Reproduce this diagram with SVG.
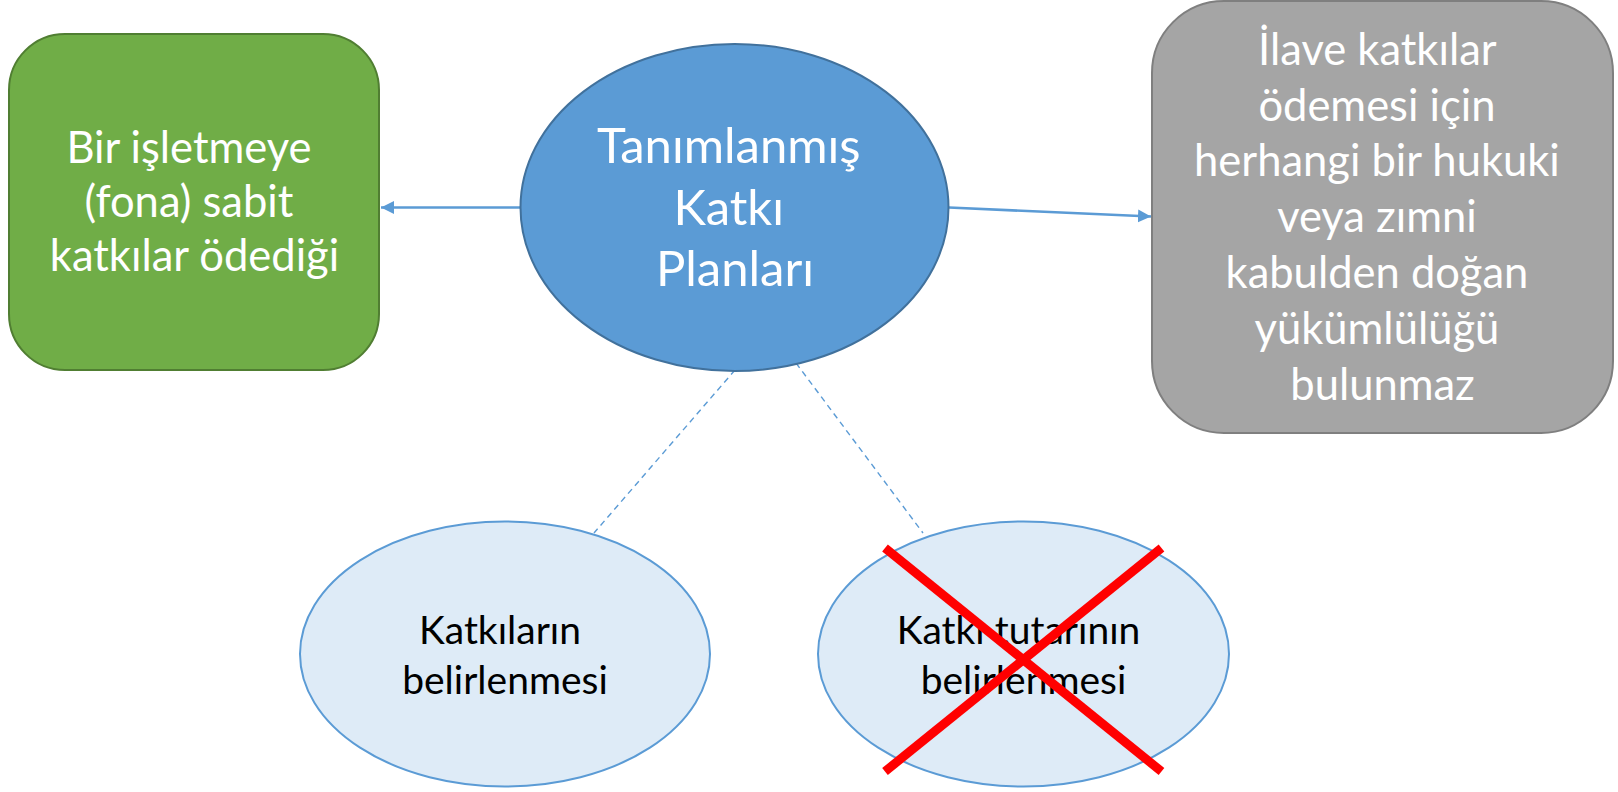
<svg xmlns="http://www.w3.org/2000/svg" width="1618" height="792" viewBox="0 0 1618 792">
  <defs>
    <style>
      .lbl { font-family: "Lato", "Liberation Sans", sans-serif; text-anchor: middle; }
      .white { fill: #FFFFFF; }
      .dark { fill: #000000; }
      .conn { stroke: #5B9BD5; stroke-width: 2.6; fill: none; }
      .dash { stroke: #5B9BD5; stroke-width: 1.4; fill: none; stroke-dasharray: 6 4.5; }
      .small { fill: #DEEBF7; stroke: #5B9BD5; stroke-width: 2; }
      .cross { stroke: #FF0000; stroke-width: 9; stroke-linecap: butt; }
    </style>
    <marker id="arrow" markerUnits="userSpaceOnUse" markerWidth="14" markerHeight="14" refX="13" refY="7" orient="auto">
      <path d="M0,0.5 L13,7 L0,13.5 Z" fill="#5B9BD5"/>
    </marker>
  </defs>

  <g id="connectors">
    <line class="conn" x1="521" y1="207.5" x2="381" y2="207.5" marker-end="url(#arrow)"/>
    <line class="conn" x1="949" y1="207.5" x2="1151" y2="216.5" marker-end="url(#arrow)"/>
    <line class="dash" x1="735" y1="370" x2="594" y2="533"/>
    <line class="dash" x1="796" y1="363" x2="923" y2="533"/>
  </g>

  <g id="node-fixed">
    <rect x="9" y="34" width="370" height="336" rx="56" ry="56" fill="#70AD47" stroke="#507E32" stroke-width="2"/>
    <text class="lbl white" font-size="43.5">
      <tspan x="194.5" y="163">Bir işletmeye</tspan>
      <tspan x="194.5" y="217">(fona) sabit</tspan>
      <tspan x="194.5" y="271">katkılar ödediği</tspan>
    </text>
  </g>

  <g id="node-main">
    <ellipse cx="734.5" cy="207.5" rx="214" ry="163.5" fill="#5B9BD5" stroke="#41719C" stroke-width="2"/>
    <text class="lbl white" font-size="49">
      <tspan x="735" y="163">Tanımlanmış</tspan>
      <tspan x="735" y="225">Katkı</tspan>
      <tspan x="735" y="286">Planları</tspan>
    </text>
  </g>

  <g id="node-noobligation">
    <rect x="1152" y="1" width="461" height="432" rx="72" ry="72" fill="#A5A5A5" stroke="#7F7F7F" stroke-width="2"/>
    <text class="lbl white" font-size="43.5">
      <tspan x="1382.5" y="65">İlave katkılar</tspan>
      <tspan x="1382.5" y="120.5">ödemesi için</tspan>
      <tspan x="1382.5" y="176">herhangi bir hukuki</tspan>
      <tspan x="1382.5" y="232">veya zımni</tspan>
      <tspan x="1382.5" y="288">kabulden doğan</tspan>
      <tspan x="1382.5" y="343.5">yükümlülüğü</tspan>
      <tspan x="1382.5" y="400">bulunmaz</tspan>
    </text>
  </g>

  <g id="node-contributions">
    <ellipse class="small" cx="505" cy="654" rx="205" ry="132.5"/>
    <text class="lbl dark" font-size="39">
      <tspan x="505" y="644">Katkıların</tspan>
      <tspan x="505" y="694">belirlenmesi</tspan>
    </text>
  </g>

  <g id="node-amount">
    <ellipse class="small" cx="1023.5" cy="654" rx="205.5" ry="132.5"/>
    <text class="lbl dark" font-size="39">
      <tspan x="1023.5" y="644">Katkı tutarının</tspan>
      <tspan x="1023.5" y="694">belirlenmesi</tspan>
    </text>
    <line class="cross" x1="885" y1="548" x2="1161.5" y2="771.5"/>
    <line class="cross" x1="1161.5" y1="548" x2="885" y2="771.5"/>
  </g>
</svg>
